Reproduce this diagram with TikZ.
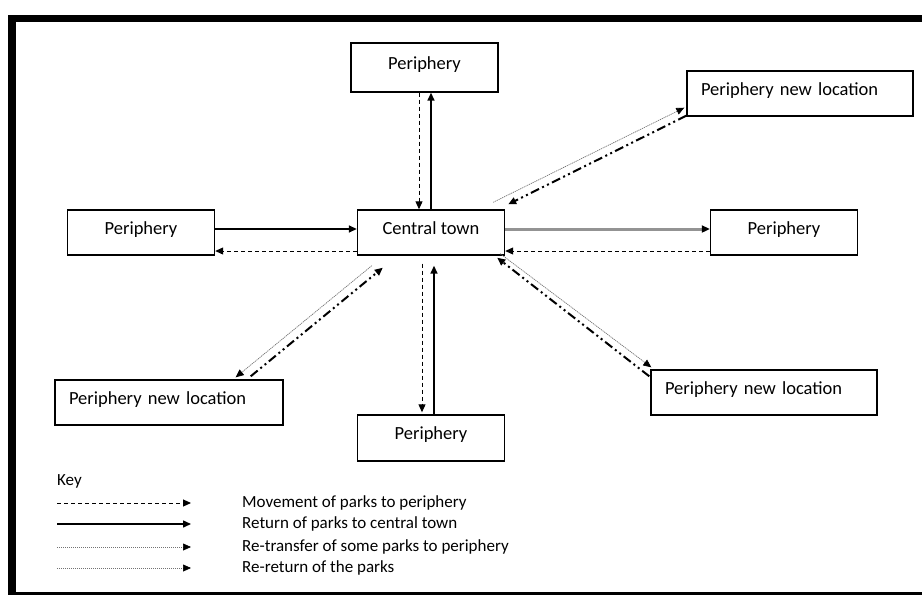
\documentclass[tikz,border=0pt]{standalone}
\usepackage{fontspec}
\setmainfont{Carlito}
\usetikzlibrary{arrows.meta,calc}
\begin{document}
\begin{tikzpicture}[x=1pt,y=-1pt,
  box/.style={draw,line width=1.4pt,inner sep=0pt,minimum height=45pt,text height=13pt,text depth=9.5pt,font=\fontsize{18.5}{20}\selectfont},
  pbox/.style={box,minimum width=147pt},
  nbox/.style={box,minimum width=226pt,text width=198pt,align=left},
  tipp/.style={-{Triangle[length=8pt,width=7pt,color=black]}},
  solidarrow/.style={tipp,line width=1.5pt},
  grayarrow/.style={tipp,line width=3pt,gray!85},
  dasharrow/.style={tipp,line width=1pt,dash pattern=on 4pt off 3pt},
  dotarrow/.style={tipp,line width=0.7pt,black!55,dash pattern=on 1.2pt off 0.8pt},
  ddarrow/.style={tipp,line width=2pt,dash pattern=on 9pt off 3.5pt on 2pt off 3.5pt on 2pt off 3.5pt},
  keytext/.style={anchor=west,inner sep=0pt,font=\fontsize{17}{19}\selectfont}]
\useasboundingbox (0,0) rectangle (922,595);
% frame
\fill[black] (8,15) rectangle (922,22);
\fill[black] (8,15) rectangle (16,595);
\fill[black] (8,592) rectangle (922,600);
% boxes
\node[pbox,minimum height=49pt] (top) at (424.5,67.5) {Periphery};
\node[nbox] (ptr) at (800,93.5) {Periphery new location};
\node[pbox] (left) at (141,232.5) {Periphery};
\node[pbox] (ct) at (431,232.5) {Central town};
\node[pbox] (right) at (784,232.5) {Periphery};
\node[nbox,minimum width=228pt,text width=200pt] (pbl) at (169,402.5) {Periphery new location};
\node[pbox,minimum height=46pt] (bot) at (431,438) {Periphery};
\node[nbox] (pbr) at (764,392.5) {Periphery new location};
% vertical connectors
\draw[dasharrow] ($(top.south)+(-5.5,0)$) -- ($(ct.north)+(-12,0)$);
\draw[solidarrow] (ct.north) -- ($(top.south)+(6.5,0)$);
\draw[dasharrow] ($(ct.south)+(-9,8)$) -- ($(bot.north)+(-9,-2)$);
\draw[solidarrow] ($(bot.north)+(3,0)$) -- ($(ct.south)+(3,10)$);
% horizontal connectors
\draw[solidarrow] ($(left.east)+(0,-3.5)$) -- ($(ct.west)+(0,-3.5)$);
\draw[dasharrow] ($(ct.west)+(0,18.5)$) -- ($(left.east)+(0,18.5)$);
\draw[grayarrow] ($(ct.east)+(0,-3.5)$) -- ($(right.west)+(0,-3.5)$);
\draw[dasharrow] ($(right.west)+(0,18.5)$) -- ($(ct.east)+(0,18.5)$);
% diagonal connectors
\draw[dotarrow] ($(ct.north east)+(-12,-7)$) -- ($(ptr.south west)+(-2,-9)$);
\draw[ddarrow] ($(ptr.south west)+(0,-1)$) -- ($(ct.north east)+(3,-5)$);
\draw[dotarrow] ($(ct.south east)+(-5,-2)$) -- ($(pbr.north west)+(1,-2)$);
\draw[ddarrow] ($(pbr.north west)+(-1,7)$) -- ($(ct.south east)+(-8,2)$);
\draw[dotarrow] ($(ct.south west)+(15,10)$) -- ($(pbl.north east)+(-48,-2)$);
\draw[ddarrow] ($(pbl.north east)+(-33,-3)$) -- ($(ct.south west)+(26,12)$);
% key
\node[keytext] (key) at (57,481) {Key};
\coordinate (k1s) at (57,503); \coordinate (k1e) at (191,503);
\coordinate (k2s) at (57,524); \coordinate (k2e) at (191,524);
\coordinate (k3s) at (57,547); \coordinate (k3e) at (191,547);
\coordinate (k4s) at (57,568); \coordinate (k4e) at (191,568);
\draw[dasharrow] (k1s) -- (k1e);
\draw[solidarrow] (k2s) -- (k2e);
\draw[dotarrow] (k3s) -- (k3e);
\draw[dotarrow] (k4s) -- (k4e);
\node[keytext] (t1) at (242,503) {Movement of parks to periphery};
\node[keytext] (t2) at (242,524) {Return of parks to central town};
\node[keytext] (t3) at (242,547) {Re-transfer of some parks to periphery};
\node[keytext] (t4) at (242,568) {Re-return of the parks};
\end{tikzpicture}
\end{document}
